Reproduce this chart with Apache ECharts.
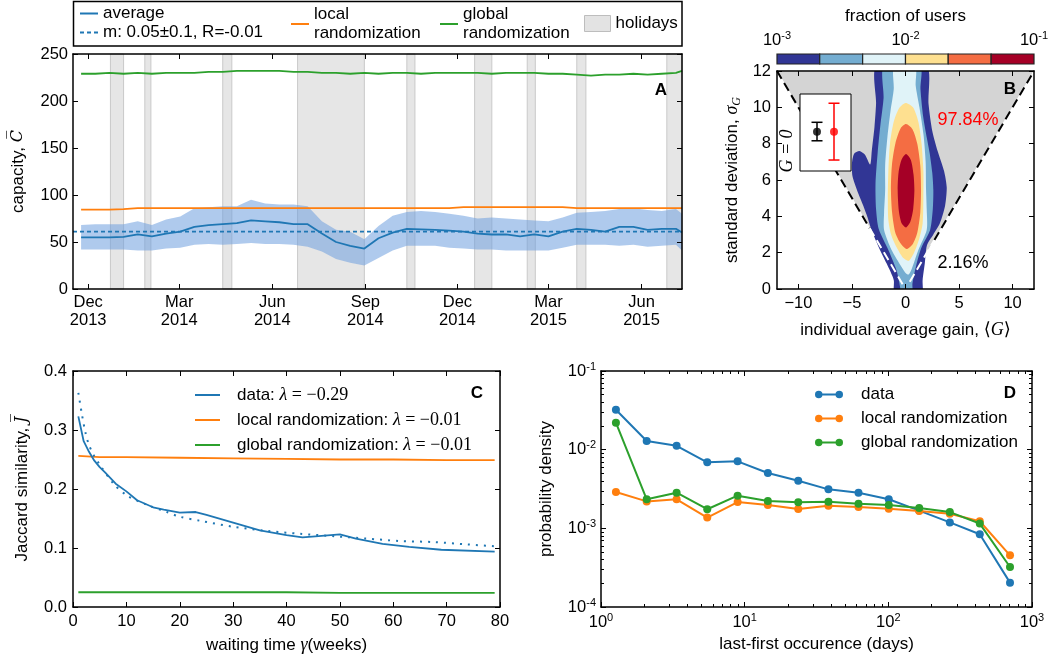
<!DOCTYPE html>
<html><head><meta charset="utf-8">
<script src="https://cdn.jsdelivr.net/npm/echarts@6/dist/echarts.min.js"></script>
<style>html,body{margin:0;padding:0;background:#fff}#c{width:1053px;height:662px}</style>
</head><body><div id="c"></div>
<script>
// ---------------- Panel A data ----------------
const aDates = ['2013-11-24','2013-12-08','2013-12-22','2014-01-05','2014-01-19','2014-02-02','2014-02-16','2014-03-02','2014-03-16','2014-03-30','2014-04-13','2014-04-27','2014-05-11','2014-05-25','2014-06-08','2014-06-22','2014-07-06','2014-07-20','2014-08-03','2014-08-17','2014-08-31','2014-09-14','2014-09-28','2014-10-12','2014-10-26','2014-11-09','2014-11-23','2014-12-07','2014-12-21','2015-01-04','2015-01-18','2015-02-01','2015-02-15','2015-03-01','2015-03-15','2015-03-29','2015-04-12','2015-04-26','2015-05-10','2015-05-24','2015-06-07','2015-06-21','2015-07-05','2015-07-11'];
const aAverage = [55,55,55,55.5,58,56,59,61,66,68,69,70,73,72,71,69,69,59,50,46,43,54,60,64,63.5,63,62,61,59,58,58,56,58,56,61,64,63,61,66,66,63,64,64,60];
const aUpper = [68,69,69,69,72,68,74,77,86,87,88,88,95,91,90,90,88,72,63,61,53,67,78,82,83,82,80,78,75,76,75,74,73,72,76,81,82,83,85,86,84,83,85,80];
const aLower = [42,42,42,42,41,41,43,44,47,48,47,48,49,48,48,47,45,40,32,28,25,33,41,46,46,46,44,43,42,42,41,41,41,41,44,47,47,47,46,47,45,46,47,41];
const aLocal = [84.5,84.5,84.5,85,86,86,86,86,86,86,86,86,86,86,86,86,86,86,86,86,86,86,86,86,86,86,86,87,87,87,87,87,87,87,87,86,86,86,86,86,86,86,86,86];
const aGlobal = [229,229,230,229,230,229,230,230,230,231,231,232,232,232,232,231,231,230,230,229,230,229,230,230,229,230,230,230,230,229,230,230,230,229,229,228,227,228,228,229,228,229,230,232];
const aFitDates = ['2013-11-16','2015-07-11'];
const aFitValues = [61,61];
const aHolidays = [['2013-12-23','2014-01-05'],['2014-01-26','2014-02-01'],['2014-04-13','2014-04-22'],['2014-06-26','2014-08-31'],['2014-10-12','2014-10-20'],['2014-12-18','2015-01-04'],['2015-02-08','2015-02-16'],['2015-03-29','2015-04-07'],['2015-06-26','2015-07-11']];
const aTickDates = ['2013-12-01','2014-03-01','2014-06-01','2014-09-01','2014-12-01','2015-03-01','2015-06-01'];
const aTickLabels = ['Dec\n2013','Mar\n2014','Jun\n2014','Sep\n2014','Dec\n2014','Mar\n2015','Jun\n2015'];
const aRange = ['2013-11-16','2015-07-11'];

// ---------------- Panel B data ----------------
const bTicks = [-10,-5,0,5,10];
const bGray = [[-12,12],[0,0],[12,12]];
const bNavy = [[-2.7,12.3],[-2.75,10.2],[-2.9,8.9],[-3.15,7.6],[-3.3,6.85],[-3.8,7.4],[-4.3,7.6],[-4.8,7.45],[-5.0,6.9],[-4.95,6.2],[-4.5,5.4],[-3.95,4.6],[-3.55,3.95],[-3.2,3.3],[-2.5,2.3],[-1.76,1.4],[-1.1,0.5],[-1.0,-0.3],[1.5,-0.3],[1.6,0.5],[1.8,1.4],[2.0,2.4],[2.6,3.0],[3.2,3.6],[3.7,4.6],[3.85,5.6],[3.6,6.5],[3.0,7.6],[2.5,8.7],[2.15,10.2],[1.95,12.3]];
const bLight = [[-2.0,12.3],[-2.05,10.5],[-2.35,9.0],[-2.6,7.5],[-2.8,5.8],[-2.75,4.4],[-2.5,3.3],[-1.6,2.15],[-0.85,1.05],[-0.5,0.1],[-0.5,-0.3],[0.6,-0.3],[0.65,0.3],[1.0,1.3],[1.5,2.3],[2.3,3.25],[2.55,4.4],[2.6,5.45],[2.5,6.4],[2.25,7.5],[2.0,8.3],[1.65,9.5],[1.4,11],[1.35,12.3]];
const bVLight = [[-1.05,12.3],[-1.1,11],[-1.4,9.8],[-1.7,8.3],[-1.9,6.8],[-1.9,5.45],[-2.0,4.2],[-2.0,3.25],[-1.3,2.15],[-0.35,1.2],[0.05,0.85],[0.3,0.8],[0.58,1.1],[1.2,2.15],[1.98,3.25],[1.98,4.4],[1.92,5.45],[1.88,7.0],[1.68,8.5],[1.3,10.0],[0.95,11.2],[0.9,12.3]];
const bYellow = [[0.0,10.24],[0.7,10.0],[1.2,9.2],[1.5,8.0],[1.67,6.5],[1.67,5.0],[1.6,3.6],[1.3,2.8],[0.8,2.0],[0.3,1.55],[-0.2,1.7],[-0.83,2.3],[-1.35,3.0],[-1.6,3.8],[-1.65,5.0],[-1.6,6.5],[-1.45,8.0],[-1.1,9.2],[-0.6,9.95]];
const bOrange = [[0.05,9.08],[0.65,8.8],[1.1,8.0],[1.38,6.8],[1.45,5.45],[1.38,4.2],[1.1,3.1],[0.65,2.45],[0.1,2.2],[-0.45,2.5],[-0.95,3.1],[-1.25,4.2],[-1.36,5.45],[-1.27,6.8],[-0.95,8.0],[-0.45,8.85]];
const bRed = [[0.05,7.43],[0.5,7.1],[0.75,6.3],[0.83,5.45],[0.72,4.4],[0.45,3.7],[0.05,3.39],[-0.35,3.6],[-0.62,4.3],[-0.73,5.45],[-0.65,6.4],[-0.38,7.1]];
const bLevels = [bNavy,bLight,bVLight,bYellow,bOrange,bRed];
const bColors = ['#313695','#74add1','#e0f3f8','#fee090','#f46d43','#a50026'];
const bDashBlackL = [[-12,12],[-3.35,3.35]];
const bDashWhiteL = [[-3.35,3.35],[-0.2,0.2]];
const bDashWhiteR = [[0.4,0.4],[2.7,2.7]];
const bDashBlackR = [[2.7,2.7],[12,12]];
const cbEdges = [0.001,0.00215,0.00464,0.01,0.0215,0.0464,0.1];
const insetX = [1,2];
const insetMean = [1.04,1.04];
const insetLow = [0.57,-0.43];
const insetHigh = [1.53,2.52];
const insetColors = ['#000000','#ff0000'];

// ---------------- Panel C data ----------------
const cT = [1,2,3,4,5,6,8,10,12,15,17,20,23,25,30,35,40,43,46,50,53,58,63,69,79];
const cData = [0.323,0.281,0.263,0.248,0.237,0.228,0.209,0.196,0.181,0.169,0.165,0.160,0.161,0.156,0.143,0.130,0.122,0.118,0.120,0.123,0.116,0.107,0.102,0.097,0.094];
const cFitT = [1,1.7,2.3,2.9,3.9,5.1,7.6,10.1,13.9,17.6,20,23.9,30,36.4,42.6,48.9,55,61,67.6,73.9,79];
const cFit = [0.363,0.325,0.297,0.277,0.257,0.240,0.209,0.189,0.173,0.161,0.153,0.146,0.136,0.129,0.124,0.120,0.116,0.112,0.110,0.106,0.103];
const cRandT = [1,5,10,20,30,40,50,60,70,79];
const cLocal = [0.256,0.254,0.254,0.253,0.252,0.251,0.250,0.250,0.249,0.249];
const cGlobal = [0.025,0.025,0.025,0.025,0.025,0.025,0.024,0.024,0.024,0.024];

// ---------------- Panel D data ----------------
const dX = [1.27,2.08,3.36,5.49,8.93,14.5,23.6,38.3,62.0,100.7,164,268,433,703];
const dData = [0.0322,0.0129,0.0112,0.0069,0.0071,0.00505,0.00403,0.00313,0.00284,0.00234,0.00168,0.00119,0.00084,0.000204];
const dLocal = [0.0029,0.0022,0.00234,0.00137,0.00216,0.00198,0.00176,0.00194,0.00187,0.00178,0.00166,0.00153,0.00123,0.000454];
const dGlobal = [0.022,0.00234,0.00284,0.00175,0.0026,0.00222,0.00214,0.00218,0.00206,0.00198,0.00181,0.00161,0.00115,0.000322];

// ---------------- styling ----------------
const F = "'Liberation Sans', Arial, Helvetica, sans-serif";
const SERIF = "'Liberation Serif', 'DejaVu Serif', serif";
const DSERIF = "'DejaVu Serif', serif";
const BLUE = '#1f77b4', ORANGE = '#ff7f0e', GREEN = '#2ca02c';

function merge(a, b) {
  const o = Object.assign({}, a);
  for (const k in b) {
    if (b[k] && typeof b[k] === 'object' && !Array.isArray(b[k]) && a[k] && typeof a[k] === 'object' && !Array.isArray(a[k])) o[k] = merge(a[k], b[k]);
    else o[k] = b[k];
  }
  return o;
}
const baseAxis = {
  z: 20, nameMoveOverlap: false,
  axisLine: {show: true, onZero: false, lineStyle: {color: '#000', width: 1.5}},
  axisTick: {show: true, inside: true, length: 5, lineStyle: {color: '#000', width: 1}},
  minorTick: {show: false},
  splitLine: {show: false},
  axisLabel: {show: true, color: '#000', fontSize: 16.5, fontFamily: F},
  nameTextStyle: {color: '#000', fontSize: 17, fontFamily: F}
};
const ax = o => merge(baseAxis, o);
const mirror = o => merge(baseAxis, merge(o, {axisLabel: {show: false}, name: ''}));

const mathRich = {
  s: {fontSize: 17, fontFamily: F, color: '#000', lineHeight: 22},
  m: {fontSize: 18, fontFamily: SERIF, color: '#000', lineHeight: 22},
  mi: {fontSize: 18, fontFamily: SERIF, fontStyle: 'italic', color: '#000', lineHeight: 22},
  ob: {fontSize: 16, fontFamily: DSERIF, fontStyle: 'italic', color: '#000', lineHeight: 22},
  sub: {fontSize: 12, fontFamily: SERIF, fontStyle: 'italic', color: '#000', lineHeight: 12, verticalAlign: 'bottom'}
};
const supRich = {
  b: {fontSize: 16.5, fontFamily: F, color: '#000', lineHeight: 20},
  p: {fontSize: 11, fontFamily: F, color: '#000', lineHeight: 10, verticalAlign: 'top'}
};
const pow10 = v => '{b|10}{p|' + Math.round(Math.log10(v)) + '}';

const ts = s => Date.parse(s);
const aTs = aDates.map(ts);
const aTickVals = aTickDates.map(ts);
const minor = (lo, hi) => { const r = []; for (let e = lo; e < hi; e++) for (let k = 2; k <= 9; k++) r.push(+(k * Math.pow(10, e)).toPrecision(3)); return r; };
const dMinorX = minor(0, 3), dMinorY = minor(-4, -1);

function clipGroup(params, children) {
  const cs = params.coordSys;
  return {type: 'group', clipPath: {type: 'rect', shape: {x: cs.x, y: cs.y, width: cs.width, height: cs.height}}, children};
}

const xA = {type: 'value', gridIndex: 0, min: ts(aRange[0]), max: ts(aRange[1]), axisTick: {customValues: aTickVals}};
const yA = {type: 'value', gridIndex: 0, min: 0, max: 250, interval: 50};
const xB = {type: 'value', gridIndex: 1, min: -12, max: 12, axisTick: {customValues: bTicks}, axisLabel: {customValues: bTicks}};
const yB = {type: 'value', gridIndex: 1, min: 0, max: 12, interval: 2};
const xC = {type: 'value', gridIndex: 2, min: 0, max: 80, interval: 10};
const yC = {type: 'value', gridIndex: 2, min: 0, max: 0.4, interval: 0.1};
const xD = {type: 'log', logBase: 10, gridIndex: 3, min: 1, max: 1000};
const yD = {type: 'log', logBase: 10, gridIndex: 3, min: 0.0001, max: 0.1};

const legText = {fontSize: 17, fontFamily: F, color: '#000'};
const mathLegRich = {g: {width: 12}, s: {fontSize: 17, fontFamily: F, color: '#000'}, m: {fontSize: 18, fontFamily: SERIF, color: '#000'}, mi: {fontSize: 18, fontFamily: SERIF, fontStyle: 'italic', color: '#000'}};

const option = {
  animation: false,
  backgroundColor: '#fff',
  textStyle: {fontFamily: F},
  grid: [
    {left: 73, top: 54, width: 609, height: 235, outerBoundsMode: 'none'},
    {left: 777, top: 71, width: 257, height: 218, outerBoundsMode: 'none'},
    {left: 73, top: 371, width: 427, height: 236, outerBoundsMode: 'none'},
    {left: 601, top: 371, width: 431, height: 236, outerBoundsMode: 'none'},
    {left: 777, top: 54, width: 257, height: 10, outerBoundsMode: 'none'},
    {left: 800, top: 94, width: 51, height: 77, outerBoundsMode: 'none', show: true, backgroundColor: '#fff', borderColor: '#000', borderWidth: 1, z: 10}
  ],
  xAxis: [
    ax(merge(xA, {position: 'bottom', axisLabel: {customValues: aTickVals, lineHeight: 18, margin: 4,
      formatter: v => { const i = aTickVals.findIndex(t => Math.abs(t - v) < 1e6); return i >= 0 ? aTickLabels[i] : ''; }}})),
    mirror(merge(xA, {position: 'top'})),
    ax(merge(xB, {position: 'bottom', axisLabel: {margin: 6, formatter: v => v < 0 ? '\u2212' + (-v) : '' + v},
      name: '{s|individual average gain, }{m|\u27e8}{mi|G}{m|\u27e9}', nameLocation: 'middle', nameGap: 30, nameTextStyle: {rich: mathRich}})),
    mirror(merge(xB, {position: 'top'})),
    ax(merge(xC, {position: 'bottom', axisLabel: {margin: 6},
      name: '{s|waiting time }{mi|\u03b3}{s|(weeks)}', nameLocation: 'middle', nameGap: 27, nameTextStyle: {rich: mathRich}})),
    mirror(merge(xC, {position: 'top'})),
    ax(merge(xD, {position: 'bottom', axisLabel: {margin: 5, formatter: pow10, rich: supRich},
      name: 'last-first occurence (days)', nameLocation: 'middle', nameGap: 29})),
    mirror(merge(xD, {position: 'top'})),
    mirror(merge(xD, {position: 'bottom', axisLine: {show: false}, axisTick: {length: 3, customValues: dMinorX}})),
    mirror(merge(xD, {position: 'top', axisLine: {show: false}, axisTick: {length: 3, customValues: dMinorX}})),
    ax({type: 'log', logBase: 10, gridIndex: 4, min: 0.001, max: 0.1, position: 'top',
      axisLine: {show: false}, axisTick: {show: false},
      axisLabel: {margin: 4, formatter: pow10, rich: supRich},
      name: 'fraction of users', nameLocation: 'middle', nameGap: 29}),
    {type: 'value', gridIndex: 5, min: 0, max: 3, show: false}
  ],
  yAxis: [
    ax(merge(yA, {position: 'left', axisLabel: {margin: 5},
      name: '{s|capacity, }{ob|C\u0305}', nameLocation: 'middle', nameRotate: 90, nameGap: 44, nameTextStyle: {rich: mathRich}})),
    mirror(merge(yA, {position: 'right'})),
    ax(merge(yB, {position: 'left', axisLabel: {margin: 6},
      name: '{s|standard deviation, }{mi|\u03c3}{sub|G}', nameLocation: 'middle', nameRotate: 90, nameGap: 34, nameTextStyle: {rich: mathRich}})),
    mirror(merge(yB, {position: 'right'})),
    ax(merge(yC, {position: 'left', axisLabel: {margin: 6, formatter: v => v.toFixed(1)},
      name: '{s|Jaccard similarity, }{ob|J\u0305}', nameLocation: 'middle', nameRotate: 90, nameGap: 40, nameTextStyle: {rich: mathRich}})),
    mirror(merge(yC, {position: 'right'})),
    ax(merge(yD, {position: 'left', axisLabel: {margin: 5, formatter: pow10, rich: supRich},
      name: 'probability density', nameLocation: 'middle', nameRotate: 90, nameGap: 46})),
    mirror(merge(yD, {position: 'right'})),
    mirror(merge(yD, {position: 'left', axisLine: {show: false}, axisTick: {length: 3, customValues: dMinorY}})),
    mirror(merge(yD, {position: 'right', axisLine: {show: false}, axisTick: {length: 3, customValues: dMinorY}})),
    {type: 'value', gridIndex: 4, min: 0, max: 1, show: false},
    {type: 'value', gridIndex: 5, min: -1, max: 3, show: false}
  ],
  legend: [
    {left: 80, top: 5, padding: 0, orient: 'vertical', itemWidth: 18, itemHeight: 14, itemGap: 2, selectedMode: false,
      textStyle: Object.assign({lineHeight: 17}, legText),
      data: [
        {name: 'average', icon: 'path://M0,0h18v2h-18z', itemStyle: {color: BLUE, borderWidth: 0}},
        {name: 'm: 0.05\u00b10.1, R=-0.01', icon: 'path://M0,0h4v2h-4z M7,0h4v2h-4z M14,0h4v2h-4z', itemStyle: {color: BLUE, borderWidth: 0}}
      ]},
    {left: 291, top: 5, padding: 0, itemWidth: 18, itemHeight: 14, selectedMode: false,
      textStyle: Object.assign({lineHeight: 19}, legText),
      formatter: () => 'local\nrandomization',
      data: [{name: 'local randomization', icon: 'path://M0,0h18v2h-18z', itemStyle: {color: ORANGE, borderWidth: 0}}]},
    {left: 440, top: 5, padding: 0, itemWidth: 18, itemHeight: 14, selectedMode: false,
      textStyle: Object.assign({lineHeight: 19}, legText),
      formatter: () => 'global\nrandomization',
      data: [{name: 'global randomization', icon: 'path://M0,0h18v2h-18z', itemStyle: {color: GREEN, borderWidth: 0}}]},
    {left: 584, top: 15, padding: 0, itemWidth: 26, itemHeight: 16, selectedMode: false,
      textStyle: Object.assign({lineHeight: 16}, legText),
      data: [{name: 'holidays', icon: 'rect', itemStyle: {color: '#e3e3e3', borderColor: '#bdbdbd', borderWidth: 1}}]},
    {left: 195, top: 386, padding: 0, orient: 'vertical', itemWidth: 25, itemHeight: 14, itemGap: 7, selectedMode: false,
      textStyle: Object.assign({lineHeight: 17, rich: mathLegRich}, legText),
      formatter: n => { const p = n.split(': '); return '{g| }{s|' + p[0] + ': }{mi|\u03bb}{m|' + p[1].slice(1) + '}'; },
      data: [
        {name: 'data: \u03bb = \u22120.29', icon: 'path://M0,0h25v2h-25z', itemStyle: {color: BLUE, borderWidth: 0}},
        {name: 'local randomization: \u03bb = \u22120.01', icon: 'path://M0,0h25v2h-25z', itemStyle: {color: ORANGE, borderWidth: 0}},
        {name: 'global randomization: \u03bb = \u22120.01', icon: 'path://M0,0h25v2h-25z', itemStyle: {color: GREEN, borderWidth: 0}}
      ]},
    {left: 815, top: 386, padding: 0, orient: 'vertical', itemWidth: 28, itemHeight: 8, itemGap: 7, selectedMode: false,
      textStyle: Object.assign({lineHeight: 17, rich: {g: {width: 13}, s: {fontSize: 17, fontFamily: F, color: '#000'}}}, legText),
      formatter: n => '{g| }{s|' + n + '}',
      data: ['data', 'local randomization', 'global randomization'].map((n, i) => ({
        name: n, icon: 'path://M0,4A4,4,0,1,1,8,4A4,4,0,1,1,0,4Z M4,3L26,3L26,5L4,5Z M22,4A4,4,0,1,1,30,4A4,4,0,1,1,22,4Z',
        itemStyle: {color: [BLUE, ORANGE, GREEN][i], borderWidth: 0}}))}
  ],
  graphic: [
    {type: 'rect', silent: true, z: 50, shape: {x: 73.5, y: 1.5, width: 608.5, height: 44.5}, style: {fill: 'none', stroke: '#000', lineWidth: 1.5}},
    {type: 'text', z: 60, x: 661, y: 90, style: {text: 'A', font: 'bold 17px ' + F, fill: '#000', align: 'center', verticalAlign: 'middle', textAlign: 'center', textVerticalAlign: 'middle'}},
    {type: 'text', z: 60, x: 1010, y: 89, style: {text: 'B', font: 'bold 17px ' + F, fill: '#000', align: 'center', verticalAlign: 'middle', textAlign: 'center', textVerticalAlign: 'middle'}},
    {type: 'text', z: 60, x: 477, y: 393, style: {text: 'C', font: 'bold 17px ' + F, fill: '#000', align: 'center', verticalAlign: 'middle', textAlign: 'center', textVerticalAlign: 'middle'}},
    {type: 'text', z: 60, x: 1010, y: 393, style: {text: 'D', font: 'bold 17px ' + F, fill: '#000', align: 'center', verticalAlign: 'middle', textAlign: 'center', textVerticalAlign: 'middle'}},
    {type: 'text', z: 60, x: 968, y: 120, style: {text: '97.84%', font: '18px ' + F, fill: '#ff0000', align: 'center', verticalAlign: 'middle', textAlign: 'center', textVerticalAlign: 'middle'}},
    {type: 'text', z: 60, x: 963, y: 263, style: {text: '2.16%', font: '18px ' + F, fill: '#000', align: 'center', verticalAlign: 'middle', textAlign: 'center', textVerticalAlign: 'middle'}},
    {type: 'text', z: 60, x: 787, y: 151, rotation: Math.PI / 2, style: {text: 'G = 0', font: 'italic 18px ' + SERIF, fill: '#000', align: 'center', verticalAlign: 'middle', textAlign: 'center', textVerticalAlign: 'middle'}}
  ],
  series: [
    // ---- A ----
    {name: 'holidays', type: 'line', xAxisIndex: 0, yAxisIndex: 0, data: [], z: 1, silent: true, itemStyle: {color: '#e3e3e3'},
      markArea: {silent: true, itemStyle: {color: '#e6e6e6', borderColor: '#c9c9c9', borderWidth: 1},
        data: aHolidays.map(h => [{xAxis: ts(h[0])}, {xAxis: ts(h[1])}])}},
    {name: 'band', type: 'custom', xAxisIndex: 0, yAxisIndex: 0, z: 2, silent: true, data: [[aTs[0], aAverage[0]]],
      renderItem: (params, api) => {
        const pts = [];
        for (let i = 0; i < aTs.length; i++) pts.push(api.coord([aTs[i], aUpper[i]]));
        for (let i = aTs.length - 1; i >= 0; i--) pts.push(api.coord([aTs[i], aLower[i]]));
        return clipGroup(params, [{type: 'polygon', shape: {points: pts}, style: {fill: 'rgba(110,158,222,0.55)'}}]);
      }},
    {name: 'local randomization', type: 'line', xAxisIndex: 0, yAxisIndex: 0, z: 3, symbol: 'none', silent: true,
      data: aTs.map((t, i) => [t, aLocal[i]]), lineStyle: {color: ORANGE, width: 1.8}, itemStyle: {color: ORANGE}},
    {name: 'global randomization', type: 'line', xAxisIndex: 0, yAxisIndex: 0, z: 3, symbol: 'none', silent: true,
      data: aTs.map((t, i) => [t, aGlobal[i]]), lineStyle: {color: GREEN, width: 1.8}, itemStyle: {color: GREEN}},
    {name: 'average', type: 'line', xAxisIndex: 0, yAxisIndex: 0, z: 4, symbol: 'none', silent: true,
      data: aTs.map((t, i) => [t, aAverage[i]]), lineStyle: {color: BLUE, width: 1.8}, itemStyle: {color: BLUE}},
    {name: 'm: 0.05\u00b10.1, R=-0.01', type: 'line', xAxisIndex: 0, yAxisIndex: 0, z: 4, symbol: 'none', silent: true,
      data: aFitDates.map((d, i) => [ts(d), aFitValues[i]]), lineStyle: {color: BLUE, width: 1.6, type: [4, 3]}, itemStyle: {color: BLUE}},
    // ---- B ----
    {type: 'custom', xAxisIndex: 2, yAxisIndex: 2, z: 2, silent: true, data: [[0, 0]],
      renderItem: (params, api) => clipGroup(params, [{type: 'polygon', shape: {points: bGray.map(p => api.coord(p))}, style: {fill: '#d4d4d4', stroke: '#ffffff', lineWidth: 1}}])},
    {type: 'custom', xAxisIndex: 2, yAxisIndex: 2, z: 3, silent: true, data: bLevels.map((l, i) => [0, 0, i]),
      renderItem: (params, api) => {
        const i = params.dataIndex;
        return clipGroup(params, [{type: 'polygon', shape: {points: bLevels[i].map(p => api.coord(p)), smooth: 0.25}, style: {fill: bColors[i]}}]);
      }},
    {type: 'line', xAxisIndex: 2, yAxisIndex: 2, z: 4, symbol: 'none', silent: true, data: bDashBlackL, lineStyle: {color: '#000', width: 2, type: [9, 5]}},
    {type: 'line', xAxisIndex: 2, yAxisIndex: 2, z: 4, symbol: 'none', silent: true, data: bDashBlackR, lineStyle: {color: '#000', width: 2, type: [9, 5]}},
    {type: 'line', xAxisIndex: 2, yAxisIndex: 2, z: 4, symbol: 'none', silent: true, data: bDashWhiteL, lineStyle: {color: '#fff', width: 2, type: [9, 5]}},
    {type: 'line', xAxisIndex: 2, yAxisIndex: 2, z: 4, symbol: 'none', silent: true, data: bDashWhiteR, lineStyle: {color: '#fff', width: 2, type: [9, 5]}},
    // colorbar
    {type: 'custom', xAxisIndex: 10, yAxisIndex: 10, z: 4, silent: true, data: bColors.map((c, i) => [cbEdges[i], 0, i]),
      renderItem: (params, api) => {
        const i = params.dataIndex;
        const p0 = api.coord([cbEdges[i], 1]), p1 = api.coord([cbEdges[i + 1], 0]);
        return {type: 'rect', shape: {x: p0[0], y: p0[1], width: p1[0] - p0[0], height: p1[1] - p0[1]}, style: {fill: bColors[i], stroke: '#222', lineWidth: 1.2}};
      }},
    // inset
    {type: 'custom', xAxisIndex: 11, yAxisIndex: 11, z: 12, silent: true, data: insetX.map((x, i) => [x, insetMean[i]]),
      renderItem: (params, api) => {
        const i = params.dataIndex;
        const lo = api.coord([insetX[i], insetLow[i]]), hi = api.coord([insetX[i], insetHigh[i]]);
        const c = insetColors[i], w = 5.5;
        const st = {stroke: c, lineWidth: 1.5};
        return {type: 'group', children: [
          {type: 'line', shape: {x1: lo[0], y1: lo[1], x2: hi[0], y2: hi[1]}, style: st},
          {type: 'line', shape: {x1: lo[0] - w, y1: lo[1], x2: lo[0] + w, y2: lo[1]}, style: st},
          {type: 'line', shape: {x1: hi[0] - w, y1: hi[1], x2: hi[0] + w, y2: hi[1]}, style: st}
        ]};
      },
      markLine: {silent: true, symbol: 'none', label: {show: false}, lineStyle: {color: '#000', width: 1.5, type: 'solid'}, data: [{yAxis: 0}]}},
    {type: 'scatter', xAxisIndex: 11, yAxisIndex: 11, z: 13, silent: true, symbolSize: 8,
      data: insetX.map((x, i) => ({value: [x, insetMean[i]], itemStyle: {color: insetColors[i]}}))},
    // ---- C ----
    {name: 'local randomization: \u03bb = \u22120.01', type: 'line', xAxisIndex: 4, yAxisIndex: 4, z: 3, symbol: 'none', silent: true,
      data: cRandT.map((t, i) => [t, cLocal[i]]), lineStyle: {color: ORANGE, width: 1.8}, itemStyle: {color: ORANGE}},
    {name: 'global randomization: \u03bb = \u22120.01', type: 'line', xAxisIndex: 4, yAxisIndex: 4, z: 3, symbol: 'none', silent: true,
      data: cRandT.map((t, i) => [t, cGlobal[i]]), lineStyle: {color: GREEN, width: 1.8}, itemStyle: {color: GREEN}},
    {name: 'data fit', type: 'line', xAxisIndex: 4, yAxisIndex: 4, z: 3, symbol: 'none', silent: true, smooth: 0.3,
      data: cFitT.map((t, i) => [t, cFit[i]]), lineStyle: {color: BLUE, width: 2, type: [2, 6]}, itemStyle: {color: BLUE}},
    {name: 'data: \u03bb = \u22120.29', type: 'line', xAxisIndex: 4, yAxisIndex: 4, z: 4, symbol: 'none', silent: true,
      data: cT.map((t, i) => [t, cData[i]]), lineStyle: {color: BLUE, width: 1.8}, itemStyle: {color: BLUE}},
    // ---- D ----
    {name: 'data', type: 'line', xAxisIndex: 6, yAxisIndex: 6, z: 3, symbol: 'circle', symbolSize: 8, silent: true,
      data: dX.map((x, i) => [x, dData[i]]), lineStyle: {color: BLUE, width: 2}, itemStyle: {color: BLUE, borderWidth: 0}},
    {name: 'local randomization', type: 'line', xAxisIndex: 6, yAxisIndex: 6, z: 4, symbol: 'circle', symbolSize: 8, silent: true,
      data: dX.map((x, i) => [x, dLocal[i]]), lineStyle: {color: ORANGE, width: 2}, itemStyle: {color: ORANGE, borderWidth: 0}},
    {name: 'global randomization', type: 'line', xAxisIndex: 6, yAxisIndex: 6, z: 5, symbol: 'circle', symbolSize: 8, silent: true,
      data: dX.map((x, i) => [x, dGlobal[i]]), lineStyle: {color: GREEN, width: 2}, itemStyle: {color: GREEN, borderWidth: 0}}
  ]
};
const chart = echarts.init(document.getElementById('c'), null, {renderer: 'canvas', width: 1053, height: 662});
chart.setOption(option);
</script></body></html>
